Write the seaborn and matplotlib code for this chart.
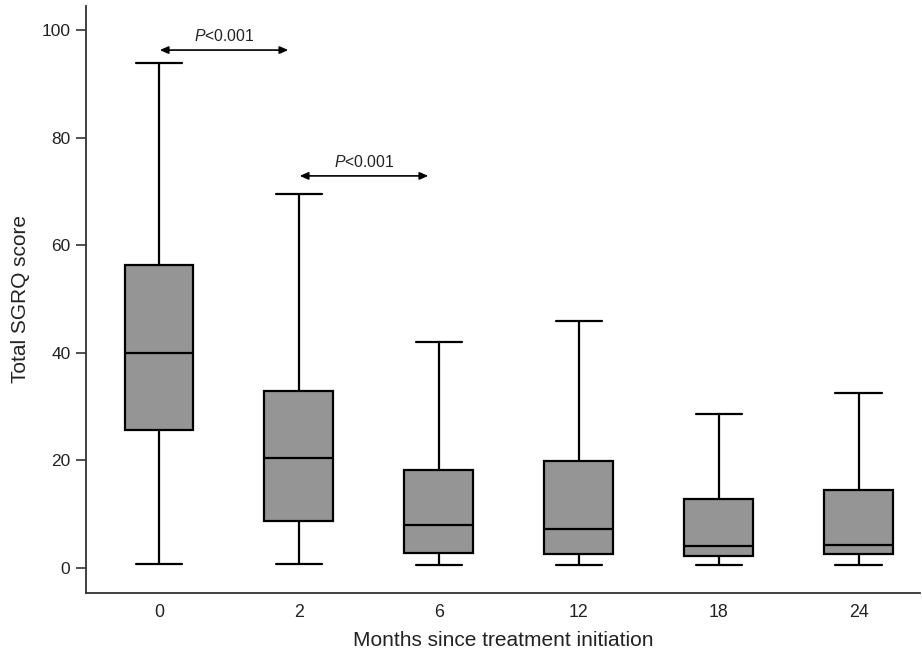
import matplotlib
matplotlib.use("Agg")
import matplotlib.pyplot as plt
import seaborn as sns
import pandas as pd

# ---- data ----
months = ["0", "2", "6", "12", "18", "24"]
mins = [0.7, 0.7, 0.55, 0.5, 0.5, 0.5]
q1s = [25.6, 8.8, 2.7, 2.5, 2.3, 2.5]
medians = [40.0, 20.4, 8.05, 7.3, 4.0, 4.3]
q3s = [56.4, 32.9, 18.3, 19.9, 12.8, 14.4]
maxs = [93.9, 69.6, 42.1, 45.9, 28.6, 32.6]

comparisons = [("0", "2"), ("2", "6")]
comp_labels = ["<0.001", "<0.001"]
comp_y = [96.3, 72.9]

y_ticks = [0, 20, 40, 60, 80, 100]

rows = []
for m, a, b, c, d, e in zip(months, mins, q1s, medians, q3s, maxs):
    for v in (a, b, c, d, e):
        rows.append({"month": m, "score": v})
df = pd.DataFrame(rows)

sns.set_theme(style="white")
plt.rcParams["font.family"] = ["Liberation Sans", "DejaVu Sans"]
plt.rcParams["mathtext.fontset"] = "custom"
plt.rcParams["mathtext.it"] = "Liberation Sans:italic"
plt.rcParams["mathtext.rm"] = "Liberation Sans"

fig = plt.figure(figsize=(9.22, 6.49), dpi=100)
ax = fig.add_axes([0.0933, 0.0868, 0.9047, 0.904])

sns.boxplot(data=df, x="month", y="score", order=months, whis=(0, 100),
            color="#959595", saturation=1, linecolor="black", linewidth=1.6,
            width=0.49, fliersize=0, capwidths=0.33, ax=ax)

ax.set_ylim(-4.6, 104.5)
ax.set_xlim(-0.52, 5.44)
ax.set_yticks(y_ticks)

for (a, b), lab, y in zip(comparisons, comp_labels, comp_y):
    xa = months.index(a)
    xb = months.index(b)
    x0 = xa + 0.007
    x1 = xb - 0.075
    ax.annotate("", xy=(x0, y), xytext=(x1, y),
                arrowprops=dict(arrowstyle="<|-|>,head_length=0.5,head_width=0.22",
                                lw=1.2, color="black", shrinkA=0, shrinkB=0,
                                mutation_scale=10))
    ax.text((x0 + x1) / 2, y + 2.6, r"$P$" + lab, ha="center", va="center",
            fontsize=11.3, color="#222222")

for side in ["top", "right"]:
    ax.spines[side].set_visible(False)
for side in ["left", "bottom"]:
    ax.spines[side].set_color("#333333")
    ax.spines[side].set_linewidth(1.3)

ax.tick_params(axis="y", length=7.2, width=1.2, color="#333333", pad=4,
               labelsize=12.5, labelcolor="#222222", left=True)
ax.tick_params(axis="x", length=0, pad=8, labelsize=12.8, labelcolor="#222222")

ax.set_xlabel("Months since treatment initiation", fontsize=15, color="#222222",
              labelpad=7)
ax.set_ylabel("Total SGRQ score", fontsize=15, color="#222222", labelpad=8)

fig.savefig("out.png", dpi=100)
